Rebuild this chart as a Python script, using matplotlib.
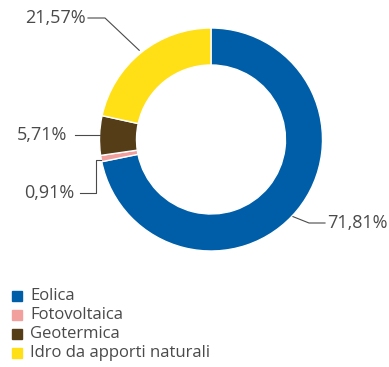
import numpy as np
import matplotlib.pyplot as plt

plt.rcParams['font.family'] = ['Open Sans', 'DejaVu Sans']

categories = ['Eolica', 'Fotovoltaica', 'Geotermica', 'Idro da apporti naturali']
values = [71.81, 0.91, 5.71, 21.57]
labels = ['71,81%', '0,91%', '5,71%', '21,57%']
colors = ['#005ea8', '#f1a09e', '#553d18', '#ffe017']

W, H = 389, 367
fig = plt.figure(figsize=(W / 100, H / 100), dpi=100)
ax = fig.add_axes([0, 0, 1, 1])

cx, cy, r = 211, H - 139.5, 111.5
wedges, _ = ax.pie(values, colors=colors, startangle=90, counterclock=False,
                   center=(cx, cy), radius=r, frame=True,
                   wedgeprops=dict(width=37, edgecolor='white', linewidth=1))
ax.set_xlim(0, W)
ax.set_ylim(0, H)
ax.set_aspect('equal')
ax.axis('off')

txt = '#4a4a4a'
line = '#4a4a4a'

def edge(i, rr=r + 2, shift=0):
    w = wedges[i]
    a = np.deg2rad((w.theta1 + w.theta2) / 2 + shift)
    return cx + rr * np.cos(a), cy + rr * np.sin(a)

# 71,81%
x0, y0 = edge(0, r + 1, shift=-4)
ax.plot([x0, 309, 325], [y0, H - 223, H - 223], color=line, lw=0.8)
ax.text(327, H - 223, labels[0], color=txt, fontsize=13, va='center', ha='left')

# 0,91%
ax.plot([101, 96, 96, 80], [H - 160, H - 160, H - 193, H - 193], color=line, lw=0.8)
ax.text(74, H - 193, labels[1], color=txt, fontsize=13, va='center', ha='right')

# 5,71%
ax.plot([100, 75], [H - 135, H - 135], color=line, lw=0.8)
ax.text(67, H - 135, labels[2], color=txt, fontsize=13, va='center', ha='right')

# 21,57%
x3, y3 = edge(3, r + 3)
ax.plot([x3, 105, 88], [y3, H - 18, H - 18], color=line, lw=0.8)
ax.text(86, H - 18, labels[3], color=txt, fontsize=13, va='center', ha='right')

# legend
for i, (cat, col) in enumerate(zip(categories, colors)):
    y = H - (296 + i * 19)
    ax.add_patch(plt.Rectangle((12, y - 5), 10, 10, color=col))
    ax.text(30, y, cat, color=txt, fontsize=12, va='center', ha='left')

fig.savefig('out.png', dpi=100)
